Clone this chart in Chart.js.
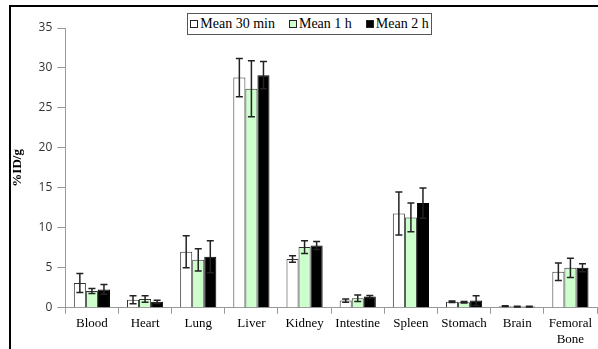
<!DOCTYPE html>
<html>
<head>
<meta charset="utf-8">
<script src="https://cdn.jsdelivr.net/npm/chart.js@4"></script>
<style>
    body { margin: 0; background: #fff; }
    #wrap { position: relative; width: 598px; height: 349px; overflow: hidden; }
    #frame { position: absolute; left: 9px; top: 5px; width: 600px; height: 360px;
             border-top: 2px solid #000; border-left: 2px solid #000; box-sizing: border-box; }
    #chart { position: absolute; left: 0; top: 0; }
    #legend { position: absolute; left: 187px; top: 13px; width: 245px; height: 22px;
              border: 1px solid #555; box-sizing: border-box; background: #fff;
              font-family: "Liberation Serif", serif; font-size: 14px; color: #000;
              display: flex; align-items: center; justify-content: center; gap: 14px; }
    .item { display: flex; align-items: center; }
    .sw { width: 8px; height: 8px; border: 1px solid #222; margin-right: 2px; box-sizing: border-box; }
</style>
</head>
<body>
<div id="wrap">
    <div id="frame"></div>
    <canvas id="chart" width="598" height="349"></canvas>
    <div id="legend"></div>
</div>
<script>
const categories = ["Blood", "Heart", "Lung", "Liver", "Kidney", "Intestine", "Spleen", "Stomach", "Brain", ["Femoral", "Bone"]];
const seriesNames = ["Mean 30 min", "Mean 1 h", "Mean 2 h"];
const mean30 = [3.1, 1.0, 7.0, 28.8, 6.1, 0.9, 11.8, 0.75, 0.2, 4.5];
const err30 = [1.2, 0.5, 2.0, 2.4, 0.4, 0.2, 2.7, 0.1, 0.05, 1.1];
const mean1h = [2.1, 1.1, 6.0, 27.4, 7.6, 1.2, 11.3, 0.7, 0.15, 5.0];
const err1h = [0.3, 0.4, 1.4, 3.5, 0.8, 0.4, 1.8, 0.1, 0.05, 1.2];
const mean2h = [2.3, 0.75, 6.4, 29.1, 7.8, 1.4, 13.1, 0.9, 0.15, 5.0];
const err2h = [0.6, 0.2, 2.0, 1.7, 0.5, 0.15, 1.9, 0.6, 0.05, 0.5];
const yTicks = [0, 5, 10, 15, 20, 25, 30, 35];

const fills = ["#ffffff", "#ccffcc", "#000000"];

const legend = document.getElementById("legend");
seriesNames.forEach((name, i) => {
    const item = document.createElement("div");
    item.className = "item";
    item.innerHTML = `<span class="sw" style="background:${fills[i]}"></span><span>${name}</span>`;
    legend.appendChild(item);
});

const errorBars = {
    id: "errorBars",
    afterDatasetsDraw(chart) {
        const ctx = chart.ctx;
        const y = chart.scales.y;
        ctx.save();
        ctx.strokeStyle = "#222";
        ctx.lineWidth = 1.5;
        chart.data.datasets.forEach((ds, di) => {
            const meta = chart.getDatasetMeta(di);
            meta.data.forEach((bar, i) => {
                const v = ds.data[i];
                const e = ds.errors[i];
                const top = y.getPixelForValue(v + e);
                const bot = y.getPixelForValue(Math.max(0, v - e));
                const x = bar.x;
                ctx.beginPath();
                ctx.moveTo(x, top); ctx.lineTo(x, bot);
                ctx.moveTo(x - 3.5, top); ctx.lineTo(x + 3.5, top);
                ctx.moveTo(x - 3.5, bot); ctx.lineTo(x + 3.5, bot);
                ctx.stroke();
            });
        });
        ctx.restore();
    }
};

new Chart(document.getElementById("chart"), {
    type: "bar",
    data: {
        labels: categories,
        datasets: [
            { label: seriesNames[0], data: mean30, errors: err30, backgroundColor: fills[0], borderColor: "#333", borderWidth: 1 },
            { label: seriesNames[1], data: mean1h, errors: err1h, backgroundColor: fills[1], borderColor: "#333", borderWidth: 1 },
            { label: seriesNames[2], data: mean2h, errors: err2h, backgroundColor: fills[2], borderColor: "#000", borderWidth: 1 }
        ]
    },
    options: {
        responsive: false,
        animation: false,
        layout: { padding: { top: 28, left: 10, right: 1, bottom: 0 } },
        datasets: { bar: { categoryPercentage: 0.68, barPercentage: 1.0 } },
        plugins: { legend: { display: false }, tooltip: { enabled: false } },
        scales: {
            x: {
                grid: { display: true, offset: true, drawOnChartArea: false, tickLength: 6, color: "#999" },
                border: { color: "#999" },
                ticks: { color: "#000", font: { family: "Liberation Serif", size: 13 }, padding: 2, maxRotation: 0, autoSkip: false }
            },
            y: {
                min: 0,
                max: 35,
                afterBuildTicks: (scale) => { scale.ticks = yTicks.map((v) => ({ value: v })); },
                grid: { display: true, drawOnChartArea: false, tickLength: 8, color: "#999" },
                border: { color: "#999" },
                ticks: { color: "#333", font: { family: "Open Sans", size: 12 }, padding: 5 },
                title: { display: true, text: "%ID/g", color: "#000", font: { family: "Liberation Serif", size: 13, weight: "bold" }, padding: { top: 0, bottom: 8 } }
            }
        }
    },
    plugins: [errorBars]
});
</script>
</body>
</html>
